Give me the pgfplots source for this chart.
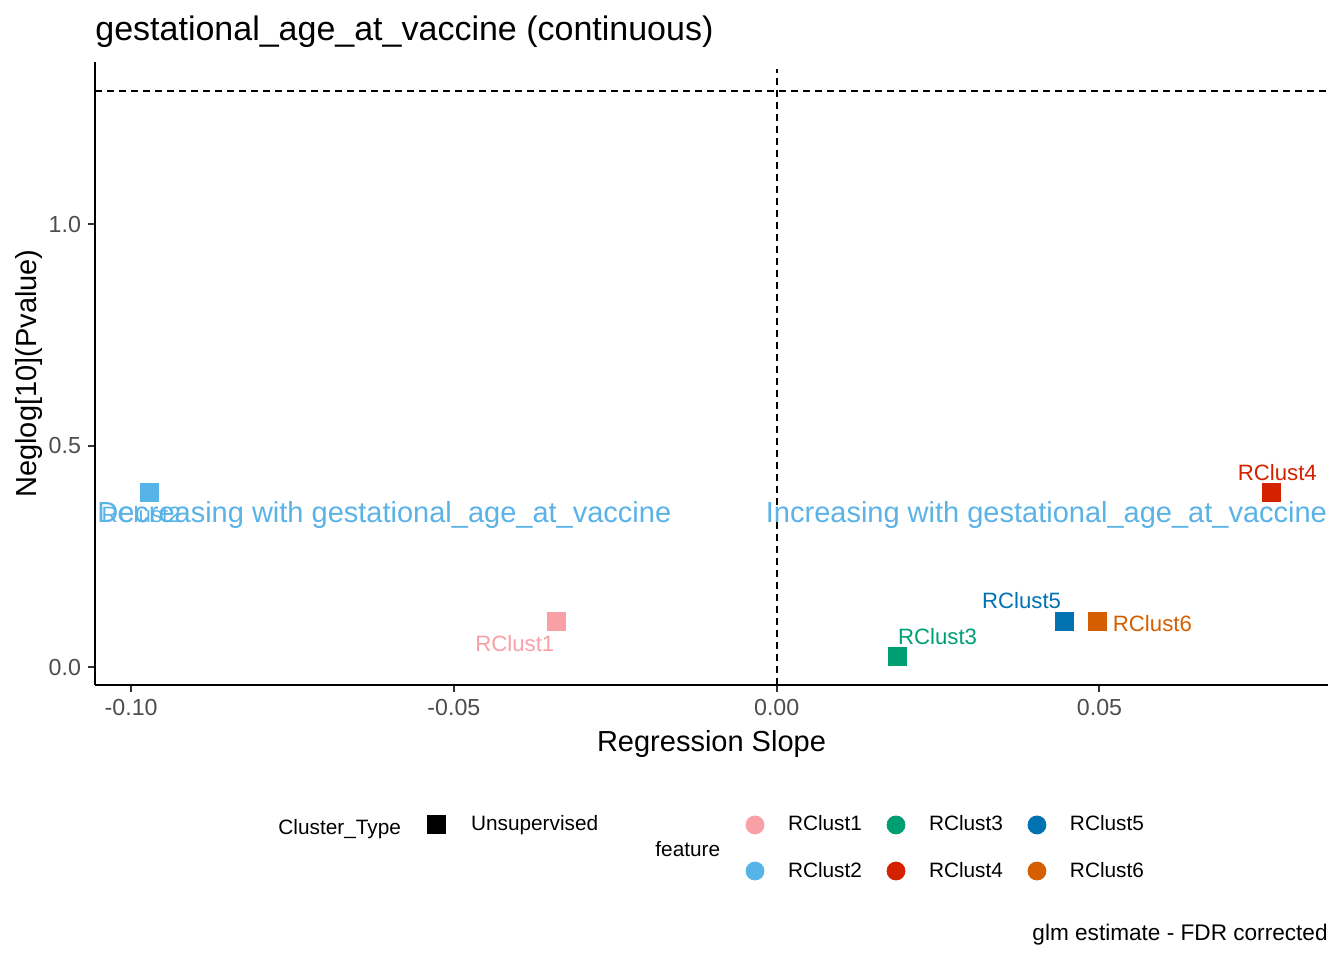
\documentclass[border=0pt]{standalone}
\usepackage{fontspec}
\setmainfont{Liberation Sans}
\usepackage{pgfplots}
\pgfplotsset{compat=1.18}
\definecolor{c1}{HTML}{F99FA6}
\definecolor{c2}{HTML}{56B4E9}
\definecolor{c3}{HTML}{009E73}
\definecolor{c4}{HTML}{D42100}
\definecolor{c5}{HTML}{0072B2}
\definecolor{c6}{HTML}{D55E00}
\definecolor{anncol}{HTML}{5AB2E6}
\definecolor{tickcol}{HTML}{4D4D4D}
\definecolor{tickline}{HTML}{333333}
\newcommand\ftitle{\fontsize{17}{20}\selectfont}
\newcommand\flabel{\fontsize{14.5}{17}\selectfont}
\newcommand\ftick{\fontsize{11.6}{14}\selectfont}
\newcommand\fleg{\fontsize{10.4}{12}\selectfont}
\newcommand\fpt{\fontsize{11.1}{13}\selectfont}
\newcommand\fcap{\fontsize{11.3}{13}\selectfont}
\begin{document}
\begin{tikzpicture}
\useasboundingbox (-47.5pt,-137.5pt) rectangle (624.5pt,342.5pt);
\begin{axis}[name=ax, at={(0,0)}, anchor=south west,
  scale only axis, width=616.5pt, height=311.5pt,
  xmin=-0.1056, xmax=0.0854, ymin=-0.0406, ymax=1.366,
  axis x line*=bottom, axis y line*=left,
  axis line style={-, line width=1pt, black},
  xtick={-0.1,-0.05,0,0.05}, ytick={0,0.5,1},
  minor tick num=0,
  tick align=outside, major tick length=3.5pt,
  every tick/.style={line width=1pt, tickline},
  x tick label style={font=\ftick, text=tickcol, /pgf/number format/.cd, fixed, fixed zerofill, precision=2, assume math mode=true},
  y tick label style={font=\ftick, text=tickcol, /pgf/number format/.cd, fixed, fixed zerofill, precision=1, assume math mode=true},
  scaled x ticks=false, scaled y ticks=false,
  clip=false,
  legend columns=3,
  legend cell align=left,
  legend image code/.code={\path[draw=none, fill=none] (-4.5pt,-4.5pt) rectangle (4.5pt,4.5pt); \draw[#1] plot coordinates {(0pt,0pt)};},
  legend style={at={(axis description cs:0.528,-0.2616)}, anchor=west, draw=none, fill=none,
    inner sep=0pt, outer sep=0pt, font=\fleg, row sep=14pt,
    nodes={inner sep=0pt, outer sep=0pt},
    /tikz/every even column/.append style={column sep=12.5pt},
    /tikz/every odd column/.append style={column sep=12pt}},
]
% reference lines
\addplot[forget plot, black, line width=1pt, dash pattern=on 3.6pt off 2.4pt] coordinates {(-0.1056,1.301) (0.0854,1.301)};
\addplot[forget plot, black, line width=1pt, dash pattern=on 3.6pt off 2.4pt] coordinates {(0,-0.0406) (0,1.35)};
% annotations
\node[anchor=base west, inner sep=0pt, font=\flabel, text=anncol] at (axis cs:-0.1053,0.327) {Decreasing with gestational\_age\_at\_vaccine};
\node[anchor=base east, inner sep=0pt, font=\flabel, text=anncol] at (axis cs:0.0853,0.327) {Increasing with gestational\_age\_at\_vaccine};
% points
\addplot[forget plot, only marks, mark=square*, mark size=4.5pt, color=c1] coordinates {(-0.0341,0.104)};
\addplot[forget plot, only marks, mark=square*, mark size=4.5pt, color=c2] coordinates {(-0.0971,0.395)};
\addplot[forget plot, only marks, mark=square*, mark size=4.5pt, color=c3] coordinates {(0.0187,0.025)};
\addplot[forget plot, only marks, mark=square*, mark size=4.5pt, color=c4] coordinates {(0.0766,0.395)};
\addplot[forget plot, only marks, mark=square*, mark size=4.5pt, color=c5] coordinates {(0.0446,0.104)};
\addplot[forget plot, only marks, mark=square*, mark size=4.5pt, color=c6] coordinates {(0.0497,0.104)};
% point labels
\node[font=\fpt, text=c1, inner sep=0pt] at (axis cs:-0.04056,0.054) {RClust1};
\node[font=\fpt, text=c2, inner sep=0pt] at (axis cs:-0.09845,0.345) {RClust2};
\node[font=\fpt, text=c3, inner sep=0pt] at (axis cs:0.02492,0.0677) {RClust3};
\node[font=\fpt, text=c4, inner sep=0pt] at (axis cs:0.07755,0.438) {RClust4};
\node[font=\fpt, text=c5, inner sep=0pt] at (axis cs:0.03793,0.151) {RClust5};
\node[font=\fpt, text=c6, inner sep=0pt] at (axis cs:0.0582,0.097) {RClust6};
% legend (feature)
\addlegendimage{only marks, mark=*, mark size=4.5pt, color=c1}
\addlegendentry{RClust1}
\addlegendimage{only marks, mark=*, mark size=4.5pt, color=c3}
\addlegendentry{RClust3}
\addlegendimage{only marks, mark=*, mark size=4.5pt, color=c5}
\addlegendentry{RClust5}
\addlegendimage{only marks, mark=*, mark size=4.5pt, color=c2}
\addlegendentry{RClust2}
\addlegendimage{only marks, mark=*, mark size=4.5pt, color=c4}
\addlegendentry{RClust4}
\addlegendimage{only marks, mark=*, mark size=4.5pt, color=c6}
\addlegendentry{RClust6}
\end{axis}
\begin{axis}[at={(0,0)}, anchor=south west, scale only axis, width=616.5pt, height=311.5pt,
  hide axis, xmin=0, xmax=1, ymin=0, ymax=1,
  legend columns=2,
  legend cell align=left,
  legend image code/.code={\path[draw=none, fill=none] (-4.5pt,-4.5pt) rectangle (4.5pt,4.5pt); \draw[#1] plot coordinates {(0pt,0pt)};},
  legend style={at={(axis description cs:0.2693,-0.2239)}, anchor=west, draw=none, fill=none,
    inner sep=0pt, outer sep=0pt, font=\fleg, column sep=13pt,
    nodes={inner sep=0pt, outer sep=0pt}},
]
\addlegendimage{only marks, mark=square*, mark size=4.5pt, color=black}
\addlegendentry{Unsupervised}
\end{axis}
% titles and labels
\node[anchor=base west, inner sep=0pt, font=\ftitle] at ([yshift=10.5pt]ax.north west) {gestational\_age\_at\_vaccine (continuous)};
\node[anchor=base, inner sep=0pt, font=\flabel] at ([yshift=-33pt]ax.south) {Regression Slope};
\node[anchor=base, rotate=90, inner sep=0pt, font=\flabel] at ([xshift=-29pt]ax.west) {Neglog[10](Pvalue)};
\node[anchor=base west, inner sep=0pt, font=\fleg] at ([xshift=91.5pt,yshift=-74.5pt]ax.south west) {Cluster\_Type};
\node[anchor=base west, inner sep=0pt, font=\fleg] at ([xshift=280pt,yshift=-85.5pt]ax.south west) {feature};
\node[anchor=base east, inner sep=0pt, font=\fcap] at ([yshift=-127.5pt]ax.south east) {glm estimate - FDR corrected};
\end{tikzpicture}
\end{document}
